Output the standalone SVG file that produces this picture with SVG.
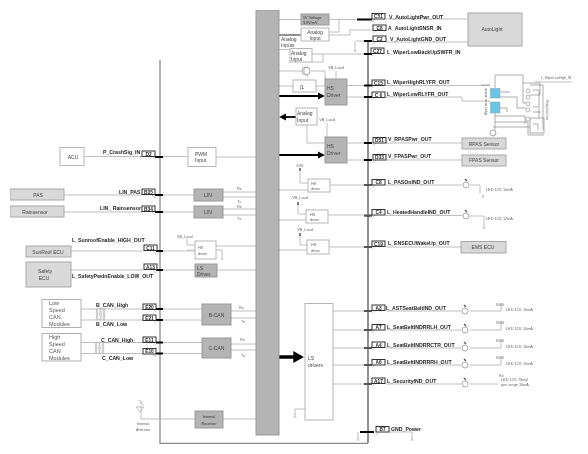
<svg xmlns="http://www.w3.org/2000/svg" xmlns:xlink="http://www.w3.org/1999/xlink" width="588" height="454" viewBox="0 0 588 454">
<style>
text{font-family:"Liberation Sans",Arial,sans-serif;fill:#333}
.l{font-size:5.2px;font-weight:bold;fill:#222}
.p{font-size:4.8px;font-weight:bold;fill:#222;text-anchor:middle}
.t{font-size:5px;fill:#444}
.s{font-size:3.8px;fill:#666}
.c{text-anchor:middle}
.w{fill:#fff;stroke:#b5b5b5;stroke-width:1}
.g{fill:#b4b4b4;stroke:#999;stroke-width:1}
.e{fill:#d9d9d9;stroke:#a8a8a8;stroke-width:1}
.n{fill:none;stroke:#b8b8b8;stroke-width:.9}
.d{fill:none;stroke:#222;stroke-width:1}
.h{fill:none;stroke:#000;stroke-width:1.8}
.pb{fill:#fff;stroke:#333;stroke-width:1}
.b{fill:#6cc3e6;stroke:#7aa;stroke-width:.5}
.m{fill:none;stroke:#8a8a8a;stroke-width:.7}
.tail{fill:none;stroke:#999;stroke-width:.6}
</style>
<defs>
<marker id="a" markerWidth="4" markerHeight="4" refX="3" refY="2" orient="auto" markerUnits="strokeWidth"><path d="M0 0L4 2L0 4z" fill="#000"/></marker>
<marker id="big" markerWidth="3" markerHeight="3.400" refX="2.200" refY="1.700" orient="auto" markerUnits="strokeWidth"><path d="M0 0L3 1.700L0 3.400z" fill="#000"/></marker>
<g id="gnd"><path class="n" d="M0 0v3M-1.500 3h3" stroke="#777"/></g>
<g id="led"><circle cx="0" cy="0" r="3" fill="#fff" stroke="#aaa"/><path d="M-1 -6l2 2" stroke="#555" stroke-width="1.200"/></g>
<g id="tw"><path class="n" d="M0 -2c3 3 3 9 0 12M3.500 -2c3 3 3 9 0 12M7 -2c3 3 3 9 0 12M3 -2c-3 3 -3 9 0 12M6.500 -2c-3 3 -3 9 0 12M10 -2c-3 3 -3 9 0 12"/></g>
<filter id="soft" x="0" y="0" width="100%" height="100%"><feGaussianBlur stdDeviation="0.4"/></filter>
</defs>
<rect width="588" height="454" fill="#fff"/>
<g filter="url(#soft)">
<g id="connectors">
<path d="M160 60V443.500H368" fill="none" stroke="#8a8a8a" stroke-width="1.300"/>
<path class="d" d="M368 40V443"/>
<path class="n" d="M84 156.500H142M155 156.500H188M216 157H256"/>
<path class="n" d="M64 195H142M155 195H194M64 212H142M155 212H194"/>
<path class="n" d="M223 192H256M223 197H256M223 209H256M223 215H256"/>
<path class="n" d="M71 251H143M156 251H195M216 246H256M216 250H222V256"/>
<path class="n" d="M71 270H143M156 270H195M217 270H256"/>
<path class="n" d="M187 239V245H195M187 250H195"/>
<path class="n" d="M81 309H143M156 309H202M81 320H143M156 320H202M231 311H256M231 318H256"/>
<path class="n" d="M81 342.500H143M156 342.500H202M81 353.500H143M156 353.500H202M231 344H256M231 350H256"/>
<path class="n" d="M141 419H195M223 419H256M141 406V419"/>
<path class="h" d="M155 157h8M155 195h8M155 212h8M156 251h7M156 270h7M156 309h7M156 320h7M156 342.500h7M156 353.500h7"/>
<path class="n" d="M279 19.500H301M329 19.500H356M339 19.500V32H329M329 35H350V30H372M386 19H468M386 42H468"/>
<path class="n" d="M279 49.500H290M312 54H372M323 54V62H312M279 71H301M311 71H325V79M279 86H293M316 86H325"/>
<path class="n" d="M347 85.500H372M347 97H372M386 85.500H490M386 97H462V101H490"/>
<path class="n" d="M356 41H372M355 41V48M336 71V79M327 123V137M307 125V143H325"/>
<path class="n" d="M347 143H372M347 160H372M386 143H462M386 160H462"/>
<path class="d" d="M279 35H301" stroke-width="1.200"/>
<path class="h" d="M279 96H323" marker-end="url(#a)"/>
<path class="h" d="M296 117H281" marker-end="url(#a)"/>
<path class="h" d="M279 155H323" marker-end="url(#a)"/>
<path class="h" d="M357 19.500h15M364 41h8M364 54h8M364 85.500h8M364 97h8M364 143h8M364 160h8M364 185h8M364 215.500h8M364 247h8M364 311h8M364 330h8M364 348h8M364 365h8M364 384h8M360 432h14"/>
<path d="M279 357H301" fill="none" stroke="#000" stroke-width="3.500" marker-end="url(#big)"/>
<path class="n" d="M279 190H308M330 185H372M386 185H462M470 185H480V194M300 172V183H308"/>
<path class="n" d="M279 220H306M328 215H372M386 215.500H462M470 216H484V225M298 205V214H306"/>
<path class="n" d="M279 250H307M329 247H372M386 247H461M300 236V245H307"/>
<path class="n" d="M333 311H372M333 330H372M333 348H372M333 365H372M333 384H372"/>
<path class="n" d="M386 311H461M470 311H501V305M386 330H461M470 330H501V324M386 348H461M470 348H501V342M386 365H461M470 365H501V359M386 384H461M470 384H498"/>
<path class="n" d="M305 409H295V415M389 432H412V438M358 432V438"/>
<path class="m" d="M495 88V75H523V103H530M495 113V130M481 85H490M500 92H510M500 97H517V108H526M500 108H507V112M495 116H525V124M495 122H528V135H544M493 127H530M530 85H543V130M523 83H540V95H530M533 90H539V118M533 107H538M533 112H541M533 124H538V130"/>
<path class="n" d="M535 82H572" stroke-width=".6"/>
<rect x="530" y="118" width="14" height="15" class="m"/>
<path class="tail" d="M152 156.500l3 3M152 195l3 3M152 212l3 3M153 251l3 3M153 270l3 3M153 309l3 3M153 320l3 3M153 342.500l3 3M153 354l3 3M375 19l-3 3M376 30.500l-3 3M376 41.500l-3 3M374 53.500l-3 3M375 85.500l-3 3M375 97.500l-3 3M376 143l-3 3M376 160l-3 3M375 185l-3 3M375 215l-3 3M375 246.500l-3 3M375 310.500l-3 3M375 330l-3 3M375 347.500l-3 3M375 365l-3 3M375 383.500l-3 3M379 432l-3 3"/>
</g>
<g id="bar"><rect x="256" y="10" width="23" height="425" class="g"/></g>
<g id="acu"><rect class="w" x="60" y="147.500" width="24" height="18"/><text class="t c" x="73" y="159">ACU</text></g>
<g id="pas"><rect class="e" x="10" y="189" width="54" height="11"/><text class="t c" x="38" y="197">PAS</text></g>
<g id="rainsensor"><rect class="e" x="10" y="206" width="54" height="11"/><text class="t c" x="35" y="213.500">Rainsensor</text></g>
<g id="sunroof"><rect class="e" x="26" y="246" width="45" height="11"/><text class="t c" x="48" y="253.500">SunRoof ECU</text></g>
<g id="safety"><rect class="e" x="26" y="262" width="45" height="25"/><text class="t c" x="45" y="273">Safety</text><text class="t c" x="44" y="280">ECU</text></g>
<g id="lowcan"><rect x="42" y="299.500" width="39" height="28" fill="#fff" stroke="#b0b0b0"/><text style="font-size:5.500px;fill:#555"><tspan x="49" y="305">Low</tspan><tspan x="49" y="312">Speed</tspan><tspan x="49" y="319">CAN</tspan><tspan x="49" y="326">Modules</tspan></text></g>
<g id="highcan"><rect x="42" y="333.500" width="39" height="27.500" fill="#fff" stroke="#b0b0b0"/><text style="font-size:5.500px;fill:#555"><tspan x="49" y="339">High</tspan><tspan x="49" y="346">Speed</tspan><tspan x="49" y="353">CAN</tspan><tspan x="49" y="360">Modules</tspan></text></g>
<g id="twists"><use xlink:href="#tw" href="#tw" x="95.500" y="310"/><use xlink:href="#tw" href="#tw" x="94.500" y="344"/></g>
<g id="pwm"><rect class="w" x="188" y="147.500" width="28" height="19"/><text class="t" x="195" y="155.500">PWM</text><text class="t" x="195" y="162">Input</text></g>
<g id="lin1"><rect class="g" x="194" y="189" width="29" height="12"/><text class="t c" x="208" y="196.500">LIN</text></g>
<g id="lin2"><rect class="g" x="194" y="206" width="29" height="12"/><text class="t c" x="208" y="213.500">LIN</text></g>
<g id="hsleft"><rect class="w" x="195" y="241" width="21" height="18"/><text class="s" x="198" y="249">HS</text><text class="s" x="198" y="254.500">driver</text><text class="s" x="177" y="238">VB_Load</text></g>
<g id="lsleft"><rect class="g" x="195" y="264" width="22" height="13"/><text class="t" x="197" y="269.500">LS</text><text class="t" x="197" y="275.500">Driver</text></g>
<g id="bcan"><rect class="g" x="202" y="304" width="29" height="21"/><text class="t c" x="216.500" y="316.500">B-CAN</text></g>
<g id="ccan"><rect class="g" x="202" y="338" width="29" height="20"/><text class="t c" x="216.500" y="350">C-CAN</text></g>
<g id="receiver"><rect class="g" x="195" y="411" width="28" height="17"/><text class="s c" x="209" y="418" style="fill:#333">Internal</text><text class="s c" x="209" y="424.500" style="fill:#333">Receiver</text></g>
<g id="antenna"><path d="M136 407h8l-4 5zM138 400l4 2-2 1 4 2" fill="none" stroke="#aaa" stroke-width=".7"/><text class="s c" x="143" y="425">Internal</text><text class="s c" x="143" y="431">Antenna</text></g>
<g id="v5"><rect class="g" x="301" y="14" width="28" height="11"/><text class="s" x="303" y="18.500" style="fill:#333">5V Voltage</text><text class="s" x="303" y="23.500" style="fill:#333">3.8V/mV</text></g>
<g id="analog1"><rect class="w" x="301" y="28" width="28" height="13"/><text class="t c" x="315" y="34">Analog</text><text class="t c" x="315" y="39.500">Input</text></g>
<text class="t" x="281" y="41">Analog</text><text class="t" x="281" y="47">Inputs</text>
<g id="analog2"><rect class="w" x="290" y="48.500" width="22" height="13.500"/><text class="t" x="291" y="54.500">Analog</text><text class="t" x="291" y="60.500">Input</text></g>
<g id="transistor"><circle cx="306" cy="71" r="4" fill="#fff" stroke="#aaa"/><path d="M304 68v6M304 71h-3M304 69l4 -3M304 73l4 3" class="n"/></g>
<g id="relay"><rect class="w" x="293" y="80" width="23" height="12"/><text class="t" x="300" y="89">∫1</text></g>
<g id="hs1"><rect class="g" x="325" y="79" width="22" height="26"/><text class="t" x="327" y="90">HS</text><text class="t" x="327" y="97">Driver</text><text class="s c" x="336" y="69">VB_Load</text></g>
<g id="analog3"><rect class="w" x="296" y="108" width="21" height="17"/><text class="t" x="297" y="115">Analog</text><text class="t" x="297" y="122">Input</text></g>
<g id="hs2"><rect class="g" x="325" y="137" width="22" height="26"/><text class="t" x="327" y="148">HS</text><text class="t" x="327" y="155">Driver</text><text class="s c" x="327" y="121">VB_Load</text></g>
<g id="hs3"><rect class="w" x="308" y="179" width="22" height="13"/><text class="s" x="311" y="184.500">HS</text><text class="s" x="311" y="190">driver</text><text class="s c" x="300" y="167">K30</text><path d="M300 168v3" stroke="#000"/></g>
<g id="hs4"><rect class="w" x="306" y="210" width="22" height="13"/><text class="s" x="310" y="215.500">HS</text><text class="s" x="310" y="221">driver</text><text class="s c" x="300" y="199">VB_Load</text><path d="M298 202v3" stroke="#000"/></g>
<g id="hs5"><rect class="w" x="307" y="240" width="22" height="14"/><text class="s" x="311" y="246">HS</text><text class="s" x="311" y="251.500">driver</text><text class="s c" x="305" y="231">VB_Load</text><path d="M300 233v3" stroke="#000"/></g>
<g id="lsdrivers"><rect class="w" x="305" y="303.500" width="28" height="116.500"/><text class="t" x="308" y="360">LS</text><text class="t" x="308" y="367">drivers</text></g>
<g id="autolight"><rect class="e" x="468" y="13" width="54" height="33"/><text class="t c" x="492" y="31">AutoLight</text></g>
<g id="rpas"><rect class="e" x="462" y="138" width="44" height="11"/><text class="t c" x="484" y="145.500">RPAS Sensor</text></g>
<g id="fpas"><rect class="e" x="462" y="155" width="44" height="11"/><text class="t c" x="484" y="162">FPAS Sensor</text></g>
<g id="ems"><rect class="e" x="461" y="241.500" width="45" height="11.500"/><text class="t c" x="483" y="249">EMS ECU</text></g>
<g id="wiper"><rect class="b" x="490.500" y="88.500" width="9.500" height="9.500"/><rect class="b" x="490.500" y="102" width="9.500" height="11"/><text class="s" style="font-size:3px" transform="translate(487 115) rotate(-90)">Wiper motor module</text><text class="s" style="font-size:3px" transform="translate(546 100) rotate(90)">Relay fuse box</text><circle cx="528" cy="91" r="2" fill="#fff" stroke="#888" stroke-width=".6"/><circle cx="528" cy="97" r="2" fill="#fff" stroke="#888" stroke-width=".6"/><circle cx="528" cy="104" r="2" fill="#fff" stroke="#888" stroke-width=".6"/><circle cx="528" cy="110" r="2" fill="#fff" stroke="#888" stroke-width=".6"/><circle cx="528" cy="119" r="2" fill="#fff" stroke="#888" stroke-width=".6"/><circle cx="493" cy="133" r="3" fill="#fff" stroke="#888" stroke-width=".7"/><text class="s" style="font-size:3.300px" x="541" y="78.500">L_WiperLowHigh_IN</text></g>
<g id="leds"><use xlink:href="#led" href="#led" x="466" y="185"/><use xlink:href="#led" href="#led" x="466" y="216"/><use xlink:href="#led" href="#led" x="465" y="311"/><use xlink:href="#led" href="#led" x="465" y="330"/><use xlink:href="#led" href="#led" x="465" y="348"/><use xlink:href="#led" href="#led" x="465" y="365"/><use xlink:href="#led" href="#led" x="465" y="384"/></g>
<g id="pins">
<rect class="pb" x="142" y="151" width="13" height="5.500"/><text class="p" x="148.500" y="155.500">D2</text>
<rect class="pb" x="142" y="189" width="13" height="5.500"/><text class="p" x="148.500" y="193.500">B35</text>
<rect class="pb" x="142" y="206" width="13" height="5.500"/><text class="p" x="148.500" y="210.500">B34</text>
<rect class="pb" x="144" y="245" width="13" height="5.500"/><text class="p" x="150.500" y="249.500">C11</text>
<rect class="pb" x="144" y="264" width="13" height="5.500"/><text class="p" x="150.500" y="268.500">A13</text>
<rect class="pb" x="143" y="304" width="13" height="5.500"/><text class="p" x="149.500" y="308.500">E20</text>
<rect class="pb" x="143" y="315" width="13" height="5.500"/><text class="p" x="149.500" y="319.500">E21</text>
<rect class="pb" x="143" y="337" width="13" height="5.500"/><text class="p" x="149.500" y="341.500">E11</text>
<rect class="pb" x="143" y="348.500" width="13" height="5.500"/><text class="p" x="149.500" y="353">E10</text>
<rect class="pb" x="372" y="13.500" width="13" height="5.500"/><text class="p" x="378.500" y="18">C51</text>
<rect class="pb" x="373" y="25" width="13" height="5.500"/><text class="p" x="379.500" y="29.500">C8</text>
<rect class="pb" x="373" y="36" width="13" height="5.500"/><text class="p" x="379.500" y="40.500">C2</text>
<rect class="pb" x="371" y="48" width="13" height="5.500"/><text class="p" x="377.500" y="52.500">C27</text>
<rect class="pb" x="372" y="80" width="13" height="5.500"/><text class="p" x="378.500" y="84.500">C15</text>
<rect class="pb" x="372" y="92" width="13" height="5.500"/><text class="p" x="378.500" y="96.500">C 6</text>
<rect class="pb" x="373" y="137.500" width="13" height="5.500"/><text class="p" x="379.500" y="142">D51</text>
<rect class="pb" x="373" y="154.500" width="13" height="5.500"/><text class="p" x="379.500" y="159">D33</text>
<rect class="pb" x="372" y="179.500" width="13" height="5.500"/><text class="p" x="378.500" y="184">C8</text>
<rect class="pb" x="372" y="209.500" width="13" height="5.500"/><text class="p" x="378.500" y="214">C4</text>
<rect class="pb" x="372" y="241" width="13" height="5.500"/><text class="p" x="378.500" y="245.500">C19</text>
<rect class="pb" x="372" y="305" width="13" height="5.500"/><text class="p" x="378.500" y="309.500">A3</text>
<rect class="pb" x="372" y="324.500" width="13" height="5.500"/><text class="p" x="378.500" y="329">A7</text>
<rect class="pb" x="372" y="342" width="13" height="5.500"/><text class="p" x="378.500" y="346.500">A4</text>
<rect class="pb" x="372" y="359.500" width="13" height="5.500"/><text class="p" x="378.500" y="364">A6</text>
<rect class="pb" x="372" y="378" width="13" height="5.500"/><text class="p" x="378.500" y="382.500">A17</text>
<rect class="pb" x="376" y="426.500" width="13" height="5.500"/><text class="p" x="382.500" y="431">B7</text>
</g>
<g id="labels">
<text class="l" x="103" y="154">P_CrashSig_IN</text>
<text class="l" x="119" y="194">LIN_PAS</text>
<text class="l" x="100" y="209.500">LIN_ Rainsensor</text>
<text class="l" x="72" y="241.500">L_SunroofEnable_HIGH_OUT</text>
<text class="l" x="72" y="278">L_SafetyPwdnEnable_LOW_OUT</text>
<text class="l" x="96" y="306.500">B_CAN_High</text>
<text class="l" x="96" y="326">B_CAN_Low</text>
<text class="l" x="101" y="341.500">C_CAN_High</text>
<text class="l" x="102" y="359.500">C_CAN_Low</text>
<text class="l" x="389" y="18.500">V_AutoLightPwr_OUT</text>
<text class="l" x="388" y="29.500">A_AutoLightSNSR_IN</text>
<text class="l" x="390" y="41">V_AutoLightGND_OUT</text>
<text class="l" x="387" y="53.500">L_WiperLowBackUpSWFR_IN</text>
<text class="l" x="387" y="84">L_WiperHighRLYFR_OUT</text>
<text class="l" x="387" y="95.500">L_WiperLowRLYFR_OUT</text>
<text class="l" x="388" y="141">V_RPASPwr_OUT</text>
<text class="l" x="388" y="158">V_FPASPwr_OUT</text>
<text class="l" x="388" y="183.500">L_PASOnIND_OUT</text>
<text class="l" x="387" y="213.500">L_HeatedHandleIND_OUT</text>
<text class="l" x="388" y="245">L_ENSECUWakeUp_OUT</text>
<text class="l" x="386" y="309.500">L_ASTSeatBeltIND_OUT</text>
<text class="l" x="387" y="329">L_SeatBeltINDRRLH_OUT</text>
<text class="l" x="387" y="346.500">L_SeatBeltINDRRCTR_OUT</text>
<text class="l" x="387" y="364">L_SeatBeltINDRRRH_OUT</text>
<text class="l" x="387" y="383">L_SecurityIND_OUT</text>
<text class="l" x="391" y="430.500">GND_Power</text>
<text class="s" x="237" y="190">Rx</text><text class="s" x="237" y="202.500">Tx</text><text class="s" x="237" y="207.500">Rx</text><text class="s" x="237" y="219.500">Tx</text>
<text class="s" x="239" y="309">Rx</text><text class="s" x="241" y="323">Tx</text><text class="s" x="240" y="341">Rx</text><text class="s" x="241" y="357">Tx</text>
<text class="s" x="486" y="191">LED 12V, 10mA</text><text class="s" x="486" y="220">LED 12V, 12mA</text>
<text class="s" x="496" y="306">IG80</text><text class="s" x="506" y="311">LED 12V, 10mA</text>
<text class="s" x="496" y="324">IG80</text><text class="s" x="506" y="330">LED 12V, 10mA</text>
<text class="s" x="496" y="342">IG80</text><text class="s" x="506" y="348">LED 12V, 10mA</text>
<text class="s" x="496" y="359">IG80</text><text class="s" x="506" y="365">LED 12V, 10mA</text>
<text class="s" x="499" y="377">Rx</text><text class="s" x="501" y="381">LED 12V, 7lleryl</text><text class="s" x="501" y="386">pen surge 10mA</text>
</g>
<g id="grounds"><use xlink:href="#gnd" href="#gnd" x="222" y="256"/><use xlink:href="#gnd" href="#gnd" x="355" y="48"/><use xlink:href="#gnd" href="#gnd" x="483" y="194"/><use xlink:href="#gnd" href="#gnd" x="484" y="225"/><use xlink:href="#gnd" href="#gnd" x="295" y="414"/><use xlink:href="#gnd" href="#gnd" x="358" y="437"/><use xlink:href="#gnd" href="#gnd" x="412" y="437"/></g>
</g>
</svg>
